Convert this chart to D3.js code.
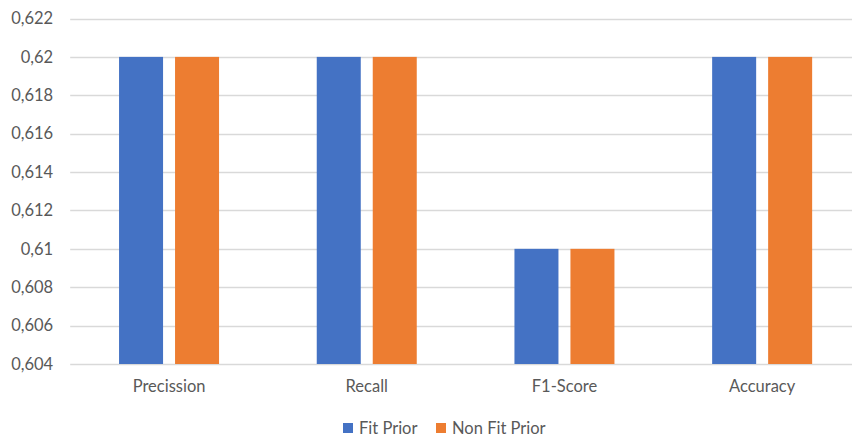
<!DOCTYPE html>
<html><head><meta charset="utf-8">
<script src="https://cdn.jsdelivr.net/npm/d3@7"></script>
<style>body{margin:0;background:#fff}svg{display:block}</style>
</head><body>
<svg id="c" width="852" height="438"></svg>
<script>
const categories = ["Precission", "Recall", "F1-Score", "Accuracy"];
const seriesNames = ["Fit Prior", "Non Fit Prior"];
const fitPrior = [0.62, 0.62, 0.61, 0.62];
const nonFitPrior = [0.62, 0.62, 0.61, 0.62];
const yTicks = [0.604, 0.606, 0.608, 0.61, 0.612, 0.614, 0.616, 0.618, 0.62, 0.622];
const colors = ["#4472C4", "#ED7D31"];

(function () {
const svg = d3.select("#c");
const font = "Lato, 'Open Sans', sans-serif";
const fs = "16.5px";
const mLeft = 70.2, mRight = 861, mTop = 18.5, mBottom = 364;

const x0 = d3.scaleBand().domain(categories).range([mLeft, mRight]).padding(0);
const x1 = d3.scaleBand().domain(seriesNames).range([-50, 50]).paddingInner(0.214).paddingOuter(0);
const y = d3.scaleLinear().domain([0.604, 0.622]).range([mBottom, mTop]);

const fmt = v => d3.format(".3~f")(v).replace(".", ",");

svg.append("g").selectAll("line").data(yTicks).join("line")
  .attr("x1", mLeft).attr("x2", mRight)
  .attr("y1", d => Math.round(y(d)) + 0.5).attr("y2", d => Math.round(y(d)) + 0.5)
  .attr("stroke", "#d9d9d9").attr("stroke-width", 1.3);

const yAxis = d3.axisLeft(y).tickValues(yTicks).tickFormat(fmt).tickSize(0).tickPadding(17);
const ya = svg.append("g").attr("transform", `translate(${mLeft},0)`).call(yAxis);
ya.select(".domain").remove();
ya.selectAll("text").attr("fill", "#595959").style("font-family", font).style("font-size", fs);

const data = categories.map((c, i) => ({c, vals: [fitPrior[i], nonFitPrior[i]]}));
const groups = svg.append("g").selectAll("g").data(data).join("g")
  .attr("transform", d => `translate(${x0(d.c) + x0.bandwidth() / 2},0)`);
groups.selectAll("rect").data(d => d.vals.map((v, j) => ({v, s: seriesNames[j], j})))
  .join("rect")
  .attr("x", d => x1(d.s))
  .attr("width", x1.bandwidth())
  .attr("y", d => y(d.v))
  .attr("height", d => y(0.604) - y(d.v))
  .attr("fill", d => colors[d.j]);

const xAxis = d3.axisBottom(x0).tickSize(0).tickPadding(16);
const xa = svg.append("g").attr("transform", `translate(0,${mBottom})`).call(xAxis);
xa.select(".domain").remove();
xa.selectAll("text").attr("fill", "#595959").style("font-family", font).style("font-size", fs);

const legendX = [343, 436];
const lg = svg.append("g").selectAll("g").data(seriesNames).join("g")
  .attr("transform", (d, i) => `translate(${legendX[i]},423)`);
lg.append("rect").attr("width", 10).attr("height", 10).attr("fill", (d, i) => colors[i]);
lg.append("text").attr("x", 16).attr("y", 11).text(d => d)
  .attr("fill", "#595959").style("font-family", font).style("font-size", fs);
})();
</script>
</body></html>
